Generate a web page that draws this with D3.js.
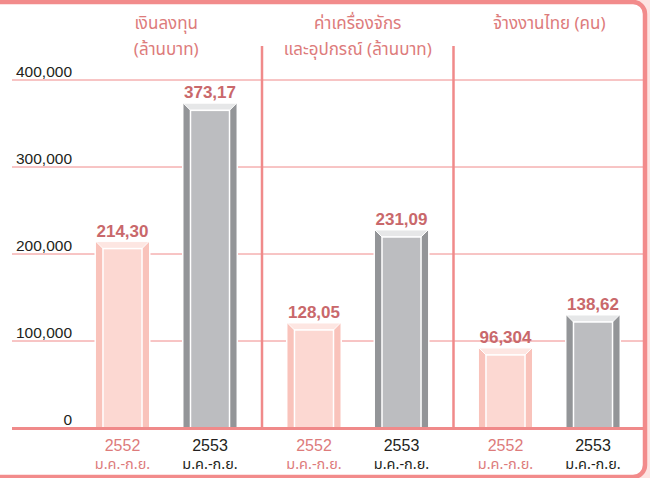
<!DOCTYPE html>
<html>
<head>
<meta charset="utf-8">
<script src="https://cdn.jsdelivr.net/npm/d3@7"></script>
<style>
  body { margin: 0; background: #fff; }
  svg { display: block; }
  text { font-family: "Liberation Sans", Arial, sans-serif; }
  .thai { font-family: "Noto Sans Thai", "Noto Sans Thai Looped", "Noto Sans", "Liberation Sans", sans-serif; }
</style>
</head>
<body>
<svg id="chart" width="650" height="478"></svg>
<script>
// categories and series
const groups = ["invest", "machine", "labour"];
const groupTitles = [
  ["เงินลงทุน", "(ล้านบาท)"],
  ["ค่าเครื่องจักร", "และอุปกรณ์ (ล้านบาท)"],
  ["จ้างงานไทย (คน)"]
];
const years = ["2552", "2553"];
const periodLabel = "ม.ค.-ก.ย.";
// bar heights as drawn in the picture
const values2552 = [214300, 120700, 92000];
const values2553 = [373170, 227600, 129900];
// value labels as printed above the bars
const labels2552 = ["214,30", "128,05", "96,304"];
const labels2553 = ["373,17", "231,09", "138,62"];
const yTicks = [0, 100000, 200000, 300000, 400000];

const pink = "#f08a8a";
const styles = {
  "2552": { side: "#f9c3bb", face: "#fcd8d2", cap: "#fde6e2", label: "#dd7b7b" },
  "2553": { side: "#939598", face: "#bcbdc0", cap: "#e6e7e8", label: "#231f20" }
};

const svg = d3.select("#chart");

// frame with light pink outside
svg.append("rect").attr("width", 650).attr("height", 478).attr("fill", "#fde4e2");
svg.append("rect")
  .attr("x", -20).attr("y", 2)
  .attr("width", 665).attr("height", 475)
  .attr("rx", 12)
  .attr("fill", "#fff")
  .attr("stroke", "#f28b8b")
  .attr("stroke-width", 4.5);

const y = d3.scaleLinear().domain([0, 400000]).range([428, 80]);
const x0 = d3.scaleBand().domain(groups).range([70.5, 645]);
const x1 = d3.scaleBand().domain(years).range([0, x0.bandwidth()])
  .paddingInner(0.394).paddingOuter(0.291);

// gridlines
svg.append("g").selectAll("line")
  .data(yTicks.filter(d => d > 0))
  .join("line")
  .attr("x1", 12).attr("x2", 643)
  .attr("y1", d => y(d)).attr("y2", d => y(d))
  .attr("stroke", pink).attr("stroke-width", 1);

// tick labels
svg.append("g").selectAll("text")
  .data(yTicks)
  .join("text")
  .attr("x", 72)
  .attr("y", d => y(d) - 3)
  .attr("text-anchor", "end")
  .attr("font-size", 15.5)
  .attr("fill", "#231f20")
  .text(d => d3.format(",")(d));

// separators
svg.append("g").selectAll("line")
  .data(groups.slice(1))
  .join("line")
  .attr("x1", d => x0(d)).attr("x2", d => x0(d))
  .attr("y1", 46).attr("y2", 428)
  .attr("stroke", pink).attr("stroke-width", 2.5);

// group titles
groups.forEach((g, i) => {
  const t = svg.append("text")
    .attr("class", "thai")
    .attr("x", x0(g) + x0.bandwidth() / 2)
    .attr("y", 29)
    .attr("text-anchor", "middle")
    .attr("font-size", 17)
    .attr("fill", "#dd7b7b");
  groupTitles[i].forEach((line, j) => {
    t.append("tspan")
      .attr("x", x0(g) + x0.bandwidth() / 2)
      .attr("dy", j === 0 ? 0 : 26)
      .text(line);
  });
});

// bars
const barData = [];
groups.forEach((g, i) => {
  barData.push({ g, year: "2552", value: values2552[i], label: labels2552[i] });
  barData.push({ g, year: "2553", value: values2553[i], label: labels2553[i] });
});

const side = 7, capH = 7;
const bars = svg.append("g").selectAll("g")
  .data(barData)
  .join("g")
  .attr("transform", d => `translate(${x0(d.g) + x1(d.year)},0)`);

const w = x1.bandwidth();
bars.append("rect")
  .attr("x", -1.5).attr("y", d => y(d.value) - 1.5)
  .attr("width", w + 3).attr("height", d => y(0) - y(d.value) + 1.5)
  .attr("fill", "#fff");
bars.append("rect")
  .attr("x", 0).attr("y", d => y(d.value))
  .attr("width", w).attr("height", d => y(0) - y(d.value))
  .attr("fill", d => styles[d.year].side);
bars.append("path")
  .attr("d", d => {
    const t = y(d.value);
    return `M0,${t}L${w},${t}L${w - side},${t + capH}L${side},${t + capH}Z`;
  })
  .attr("fill", d => styles[d.year].cap)
  .attr("stroke", "#fff").attr("stroke-width", 1);
bars.append("rect")
  .attr("x", side).attr("y", d => y(d.value) + capH)
  .attr("width", w - 2 * side).attr("height", d => y(0) - y(d.value) - capH)
  .attr("fill", d => styles[d.year].face)
  .attr("stroke", "#fff").attr("stroke-width", 1.5);

// value labels
bars.append("text")
  .attr("x", w / 2)
  .attr("y", d => y(d.value) - 5)
  .attr("text-anchor", "middle")
  .attr("font-size", 17)
  .attr("font-weight", "bold")
  .attr("fill", "#c9686b")
  .text(d => d.label);

// baseline
svg.append("line")
  .attr("x1", 12).attr("x2", 644)
  .attr("y1", y(0) + 0.5).attr("y2", y(0) + 0.5)
  .attr("stroke", pink).attr("stroke-width", 3);

// x labels
const xl = svg.append("g").selectAll("text")
  .data(barData)
  .join("text")
  .attr("class", "thai")
  .attr("x", d => x0(d.g) + x1(d.year) + w / 2)
  .attr("y", 451)
  .attr("text-anchor", "middle")
  .attr("fill", d => styles[d.year].label);
xl.append("tspan")
  .attr("font-size", 16)
  .attr("font-family", "Liberation Sans, Arial, sans-serif")
  .text(d => d.year);
xl.append("tspan")
  .attr("x", d => x0(d.g) + x1(d.year) + w / 2)
  .attr("dy", 18)
  .attr("font-size", 14.5)
  .text(periodLabel);
</script>
</body>
</html>
